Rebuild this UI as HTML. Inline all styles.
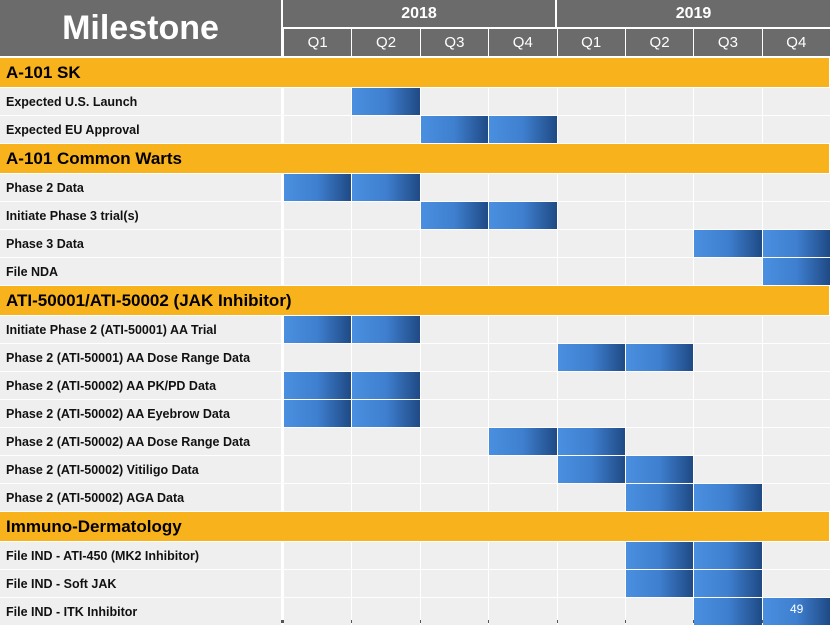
<!DOCTYPE html>
<html><head><meta charset="utf-8"><style>
body{margin:0;width:830px;height:623px;background:#fff;position:relative;overflow:hidden;font-family:"Liberation Sans",Arial,sans-serif}
div.a{position:absolute;box-sizing:border-box}
.hdr{background:#6b6b6b;color:#fff;display:flex;align-items:center;justify-content:center}
.sec{background:#f8b21c;color:#000;font-weight:bold;font-size:17px;padding-left:6px;display:flex;align-items:center}
.lab{background:#efefef;font-weight:bold;font-size:12.5px;padding-left:6px;display:flex;align-items:center;color:#111}
.cell{background:#efefef}
.bar{background:linear-gradient(90deg,#4a8fe0 0%,#3f7fcf 50%,#1f4a85 100%)}
</style></head><body>
<div class="a hdr" style="left:0;top:0;width:281px;height:56px;font-size:34px;font-weight:bold">Milestone</div>
<div class="a hdr" style="left:283px;top:0;width:272px;height:27px;font-size:16px;font-weight:bold">2018</div>
<div class="a hdr" style="left:557px;top:0;width:273px;height:27px;font-size:16px;font-weight:bold">2019</div>
<div class="a" style="left:0;top:620px;width:830px;height:3px;background:#555"></div>
<script>
const quarters=["Q1","Q2","Q3","Q4","Q1","Q2","Q3","Q4"];
const rows=[
["s","A-101 SK"],
["r","Expected U.S. Launch",[1]],
["r","Expected EU Approval",[2,3]],
["s","A-101 Common Warts"],
["r","Phase 2 Data",[0,1]],
["r","Initiate Phase 3 trial(s)",[2,3]],
["r","Phase 3 Data",[6,7]],
["r","File NDA",[7]],
["s","ATI-50001/ATI-50002 (JAK Inhibitor)"],
["r","Initiate Phase 2 (ATI-50001) AA Trial",[0,1]],
["r","Phase 2 (ATI-50001) AA Dose Range Data",[4,5]],
["r","Phase 2 (ATI-50002) AA PK/PD Data",[0,1]],
["r","Phase 2 (ATI-50002) AA Eyebrow Data",[0,1]],
["r","Phase 2 (ATI-50002) AA Dose Range Data",[3,4]],
["r","Phase 2 (ATI-50002) Vitiligo Data",[4,5]],
["r","Phase 2 (ATI-50002) AGA Data",[5,6]],
["s","Immuno-Dermatology"],
["r","File IND - ATI-450 (MK2 Inhibitor)",[5,6]],
["r","File IND - Soft JAK",[5,6]],
["r","File IND - ITK Inhibitor",[6,7]]
];
const colL=283,colW=(830-283)/8;
function mk(cls,name,l,t,w,h,txt){const d=document.createElement('div');d.className='a '+cls;


d.style.cssText=`left:${l}px;top:${t}px;width:${w}px;height:${h}px`;if(txt)d.textContent=txt;document.body.appendChild(d);return d;}
quarters.forEach((q,i)=>{const d=mk('hdr','quarter-header',colL+i*colW+1,29,colW-1,27,q);d.style.fontSize='15px';});
let y=58;
rows.forEach(r=>{
 if(r[0]=="s"){const h=29;mk('sec','section-header',0,y,829,h,r[1]);y+=h+1;}
 else{const h=27;mk('lab','milestone-label',0,y,281,h,r[1]);
  for(let i=0;i<8;i++){const on=r[2].includes(i);mk(on?'bar':'cell',on?'gantt-bar':'empty-cell',colL+i*colW+1,y,colW-1,h);}
  y+=h+1;}
});
const p=mk('','page-number',790,598,40,20,'49');p.style.color='#fff';p.style.fontSize='12px';p.style.paddingTop='4px';
</script>
</body></html>
